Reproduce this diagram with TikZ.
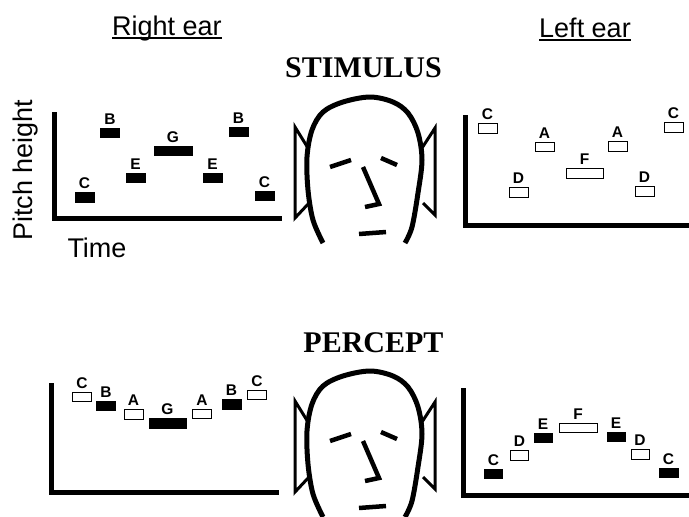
\documentclass[tikz,border=0pt]{standalone}
\usepackage{fontspec}
\setmainfont{Liberation Serif}
\setsansfont{Liberation Sans}
\tikzset{
  axis/.style={line width=5pt},
  nt/.style={draw=black,line width=.8pt,minimum height=9.5pt,inner sep=0pt},
  lbl/.style={font=\sffamily\bfseries\fontsize{15.5}{15.5}\selectfont,inner sep=0pt},
  side/.style={font=\sffamily\fontsize{27}{27}\selectfont,inner sep=0pt},
  ttl/.style={font=\bfseries\fontsize{30}{30}\selectfont,inner sep=0pt},
  face/.style={line width=4.5pt},
  head/.pic={
    % outline of the skull
    \draw[line width=5pt] plot[smooth,tension=.55] coordinates {(-42,73) (-52,50) (-57,20) (-58,-13) (-53,-40) (-42,-58) (-22,-68) (5,-73) (28,-68) (43,-57) (53,-37) (57,-10) (53,23) (47,57) (40,73)};
    % ears
    \draw[line width=3pt,line join=miter] (-57,-22) -- (-70,-43) -- (-70,48) -- (-55,32);
    \draw[line width=3pt,line join=miter] (57,-22) -- (70,-42) -- (70,45) -- (58,33);
    % eyes, nose, mouth
    \draw[face] (-35,-3) -- (-14,-10);
    \draw[face] (16,-12) -- (32,-5);
    \draw[face] (-2,-3) -- (14,34) -- (0,37);
    \draw[face] (-6,64) -- (21,62);
  },
}
\begin{document}
\begin{tikzpicture}[x=1pt,y=-1pt]
  \useasboundingbox (0,0) rectangle (689,517);

  % headings
  \node[side,anchor=base] (rear) at (167,35) {Right ear};
  \draw[line width=1.8pt] ([yshift=-3pt]rear.base west) -- ([yshift=-3pt]rear.base east);
  \node[side,anchor=base] (lear) at (585,37) {Left ear};
  \draw[line width=1.8pt] ([yshift=-3pt]lear.base west) -- ([yshift=-3pt]lear.base east);
  \node[ttl,anchor=base] (stim) at (363.5,77) {STIMULUS};
  \node[ttl,anchor=base] (perc) at (373.5,352) {PERCEPT};
  \node[side,rotate=90] (pitch) at (26,170) {Pitch height};
  \node[side,anchor=base] (time) at (97,257) {Time};

  % axes
  \draw[axis] (54,112) |- (282,218);
  \draw[axis] (465,115) |- (689,225);
  \draw[axis] (51.5,383) |- (279,492);
  \draw[axis] (463,388) |- (689,495.5);

  % heads
  \pic (hs) at (365,170) {head};
  \pic (hp) at (365,444) {head};

  % stimulus, right ear
  \foreach \x/\y/\w/\f/\t [count=\i] in {84.5/197.5/19/black/C, 110/133/19/black/B, 135.5/178/19/black/E,
      173/151/38/black/G, 212.5/178/19/black/E, 238.5/132/19/black/B, 264.5/196/19/black/C}
    \node[nt,fill=\f,minimum width=\w pt,label={[lbl,label distance=3.5pt]above:\t}] (sr\i) at (\x,\y) {};
  % stimulus, left ear
  \foreach \x/\y/\w/\f/\t [count=\i] in {487.5/128.5/19/white/C, 544.5/147/19/white/A, 518.5/192.5/19/white/D,
      584.5/173.5/37/white/F, 617.5/146.5/19/white/A, 644.5/191.5/19/white/D, 673.5/127.5/19/white/C}
    \node[nt,fill=\f,minimum width=\w pt,label={[lbl,label distance=3.5pt]above:\t}] (sl\i) at (\x,\y) {};
  % percept, right ear
  \foreach \x/\y/\w/\f/\t [count=\i] in {82/397/19/white/C, 106/406/19/black/B, 133.5/414.5/19/white/A,
      167.5/423.5/37/black/G, 202/414/19/white/A, 231.5/404.5/19/black/B, 257/395/19/white/C}
    \node[nt,fill=\f,minimum width=\w pt,label={[lbl,label distance=3.5pt]above:\t}] (pr\i) at (\x,\y) {};
  % percept, left ear
  \foreach \x/\y/\w/\f/\t [count=\i] in {493.5/474/18/black/C, 519.5/455.5/18/white/D, 543/438/18/black/E,
      578/428/38/white/F, 616/437/18/black/E, 640/454.5/18/white/D, 668.5/473/19/black/C}
    \node[nt,fill=\f,minimum width=\w pt,label={[lbl,label distance=3.5pt]above:\t}] (pl\i) at (\x,\y) {};
\end{tikzpicture}
\end{document}
